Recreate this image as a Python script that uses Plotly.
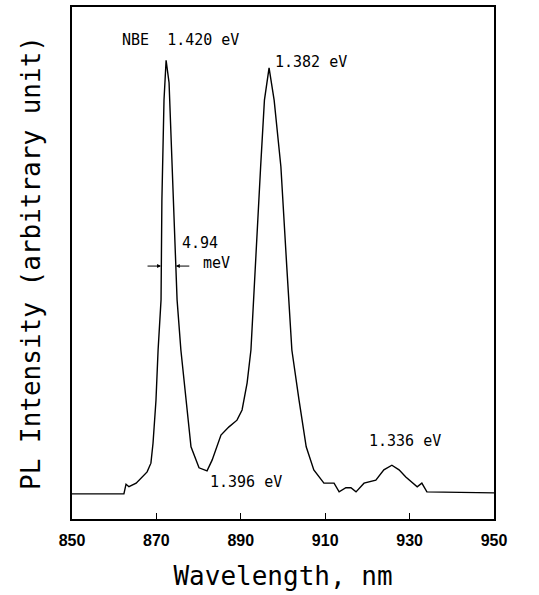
import plotly.graph_objects as go

wavelength_nm = [850, 862.3, 862.8, 863.5, 865.2, 867.8, 868.7, 869.2, 869.9, 870.4,
                 871.1, 871.3, 871.8, 872.3, 873.0, 873.7, 874.6, 874.9, 875.8, 877.0,
                 878.2, 880.1, 882.0, 883.2, 885.3, 887.2, 889.1, 890.3, 891.5, 892.4,
                 893.0, 894.7, 895.6, 896.7, 897.9, 899.5, 900.9, 901.4, 902.1, 903.8,
                 905.5, 907.3, 909.7, 912.1, 913.3, 914.9, 916.1, 917.3, 919.2, 922.0,
                 923.9, 925.8, 927.5, 929.1, 931.8, 932.9, 934.1, 950]
pl_intensity = [4.9, 4.9, 6.8, 6.3, 7.0, 9.2, 10.9, 14.8, 23.2, 33.0,
                42.8, 62.3, 81.8, 89.6, 85.2, 68.8, 49.2, 42.8, 33.0, 23.2,
                14.1, 10.0, 9.4, 11.5, 16.4, 18.0, 19.3, 21.3, 26.6, 33.0,
                42.8, 68.8, 81.8, 88.1, 81.8, 68.8, 49.2, 42.8, 33.0, 23.2,
                14.1, 9.6, 7.0, 7.0, 5.3, 6.1, 6.1, 5.3, 7.0, 7.6,
                9.6, 10.5, 9.6, 8.2, 6.3, 7.0, 5.3, 5.1]

x_ticks = [850, 870, 890, 910, 930, 950]

peak_labels = ["NBE  1.420 eV", "1.382 eV", "1.396 eV", "1.336 eV"]
peak_label_x = [861.3, 897.7, 882.3, 920.0]
peak_label_y = [93.5, 89.2, 7.2, 15.2]

fwhm_left_x = 871.1
fwhm_right_x = 874.6
fwhm_y = 49.4

fig = go.Figure()
fig.add_trace(go.Scatter(x=wavelength_nm, y=pl_intensity, mode="lines",
                         line=dict(color="black", width=1.4), showlegend=False))

ann_font = dict(family="DejaVu Sans Mono", size=15, color="black")
for t, x, y in zip(peak_labels, peak_label_x, peak_label_y):
    fig.add_annotation(x=x, y=y, text=t, showarrow=False, font=ann_font,
                       xanchor="left")

fig.add_annotation(x=875.5, y=54.0, text="4.94", showarrow=False, font=ann_font,
                   xanchor="left")
fig.add_annotation(x=880.6, y=50.0, text="meV", showarrow=False, font=ann_font,
                   xanchor="left")
fig.add_annotation(x=fwhm_left_x, y=fwhm_y, ax=-15, ay=0, text="", showarrow=True,
                   arrowhead=2, arrowsize=0.8, arrowwidth=1, arrowcolor="black")
fig.add_annotation(x=fwhm_right_x, y=fwhm_y, ax=15, ay=0, text="", showarrow=True,
                   arrowhead=2, arrowsize=0.8, arrowwidth=1, arrowcolor="black")

fig.update_layout(
    width=539, height=595,
    margin=dict(l=72, r=45, t=7, b=76),
    paper_bgcolor="white", plot_bgcolor="white",
    xaxis=dict(range=[850, 950], tickvals=x_ticks, ticks="inside", ticklen=6,
               tickwidth=1.2, tickcolor="black", showline=True, linecolor="black",
               linewidth=1.5, mirror=True, showgrid=False, zeroline=False,
               automargin=False, ticklabelstandoff=6,
               tickfont=dict(family="Liberation Sans", size=16, color="black",
                             weight="bold"),
               title=dict(text="Wavelength, nm", standoff=19,
                          font=dict(family="DejaVu Sans Mono", size=26, color="black"))),
    yaxis=dict(range=[0, 100], showticklabels=False, ticks="", showline=True,
               linecolor="black", linewidth=1.5, mirror=True, showgrid=False,
               zeroline=False, automargin=False,
               title=dict(text="PL Intensity (arbitrary unit)", standoff=22,
                          font=dict(family="DejaVu Sans Mono", size=26, color="black"))),
)

fig.write_html("out.html", config={"displayModeBar": False},
               post_script="document.body.style.margin='0px';")
